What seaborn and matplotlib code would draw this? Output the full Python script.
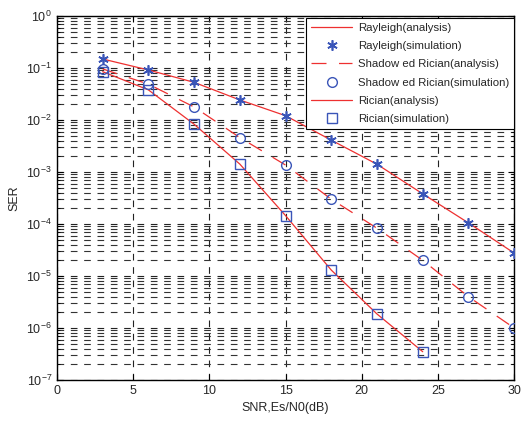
import numpy as np
import pandas as pd
import matplotlib
matplotlib.use("Agg")
import matplotlib.pyplot as plt
import seaborn as sns

# ---- data ----
snr = [3, 6, 9, 12, 15, 18, 21, 24, 27, 30]

rayleigh_ana = [0.149, 0.0916, 0.053, 0.0243, 0.0121, 0.0041, 0.00141, 3.8e-4, 1.05e-4, 2.76e-5]
rayleigh_sim = [0.149, 0.0916, 0.053, 0.0243, 0.0121, 0.0041, 0.00141, 3.8e-4, 1.05e-4, 2.76e-5]

shadowed_ana = [0.096, 0.049, 0.0178, 0.0046, 0.00136, 3.0e-4, 8.3e-5, 2.0e-5, 4.0e-6, 1.0e-6]
shadowed_sim = [0.096, 0.049, 0.0178, 0.0046, 0.00136, 3.0e-4, 8.3e-5, 2.0e-5, 4.0e-6, 1.0e-6]

rician_snr = [3, 6, 9, 12, 15, 18, 21, 24]
rician_ana = [0.085, 0.038, 0.0083, 0.00142, 1.45e-4, 1.3e-5, 1.86e-6, 3.5e-7]
rician_sim = [0.085, 0.038, 0.0083, 0.00142, 1.45e-4, 1.3e-5, 1.86e-6, 3.5e-7]

labels = ["Rayleigh(analysis)", "Rayleigh(simulation)",
          "Shadow ed Rician(analysis)", "Shadow ed Rician(simulation)",
          "Rician(analysis)", "Rician(simulation)"]

xticks = [0, 5, 10, 15, 20, 25, 30]

# ---- style ----
sns.set_style("ticks")
plt.rcParams["font.family"] = ["Liberation Sans", "DejaVu Sans"]
plt.rcParams["mathtext.fontset"] = "custom"
plt.rcParams["mathtext.rm"] = "Liberation Sans"
plt.rcParams["mathtext.it"] = "Liberation Sans"

RED = "#ee3030"
BLUE = "#3a55b8"

fig = plt.figure(figsize=(5.22, 4.21), dpi=100)
ax = fig.add_axes([0.109, 0.0974, 0.876, 0.8646])

df_ray = pd.DataFrame({"x": snr, "ana": rayleigh_ana, "sim": rayleigh_sim})
df_sha = pd.DataFrame({"x": snr, "ana": shadowed_ana, "sim": shadowed_sim})
df_ric = pd.DataFrame({"x": rician_snr, "ana": rician_ana, "sim": rician_sim})

sns.lineplot(data=df_ray, x="x", y="ana", ax=ax, color=RED, lw=0.9,
             linestyle="-", label=labels[0], zorder=3)
ax.plot(df_ray["x"], df_ray["sim"], linestyle="none", marker=(6, 2, 0), ms=7.5,
        color=BLUE, mec=BLUE, mew=1.2, label=labels[1], zorder=4)
sns.lineplot(data=df_sha, x="x", y="ana", ax=ax, color=RED, lw=0.9,
             dashes=False, label=labels[2], zorder=3)
ax.lines[-1].set_dashes([12, 10])
ax.plot(df_sha["x"], df_sha["sim"], linestyle="none", marker="o", ms=7,
        mfc="none", mec=BLUE, mew=1.0, label=labels[3], zorder=4)
sns.lineplot(data=df_ric, x="x", y="ana", ax=ax, color=RED, lw=0.9,
             linestyle="-", label=labels[4], zorder=3)
ax.plot(df_ric["x"], df_ric["sim"], linestyle="none", marker="s", ms=7,
        mfc="none", mec=BLUE, mew=1.0, label=labels[5], zorder=4)

ax.set_yscale("log")
ax.set_xlim(0, 30)
ax.set_ylim(1e-7, 1e0)
ax.set_xticks(xticks)
ax.set_xticklabels([str(t) for t in xticks])
ax.set_yticks([10.0 ** k for k in range(-7, 1)])

ax.grid(True, which="major", axis="both", color="#222222", lw=0.8,
        linestyle=(0, (6, 6)))
ax.grid(True, which="minor", axis="y", color="#333333", lw=0.8,
        linestyle=(0, (6, 6)))
ax.set_axisbelow(True)

ax.tick_params(which="both", direction="in", top=True, right=True,
               labelsize=9, color="black")
ax.tick_params(which="major", length=4)
ax.tick_params(which="minor", length=2)
for s in ax.spines.values():
    s.set_color("black")
    s.set_linewidth(1.0)

ax.set_xlabel("SNR,Es/N0(dB)", fontsize=9)
ax.set_ylabel("SER", fontsize=9)

leg = ax.legend(loc="upper right", bbox_to_anchor=(1.0, 0.995),
                borderaxespad=0, fontsize=8.2, frameon=True, fancybox=False,
                edgecolor="black", framealpha=1, handlelength=3.6,
                handletextpad=0.5, labelspacing=0.72, borderpad=0.45)
leg.get_frame().set_linewidth(0.8)
leg.set_zorder(10)

fig.savefig("out.png", dpi=100)
